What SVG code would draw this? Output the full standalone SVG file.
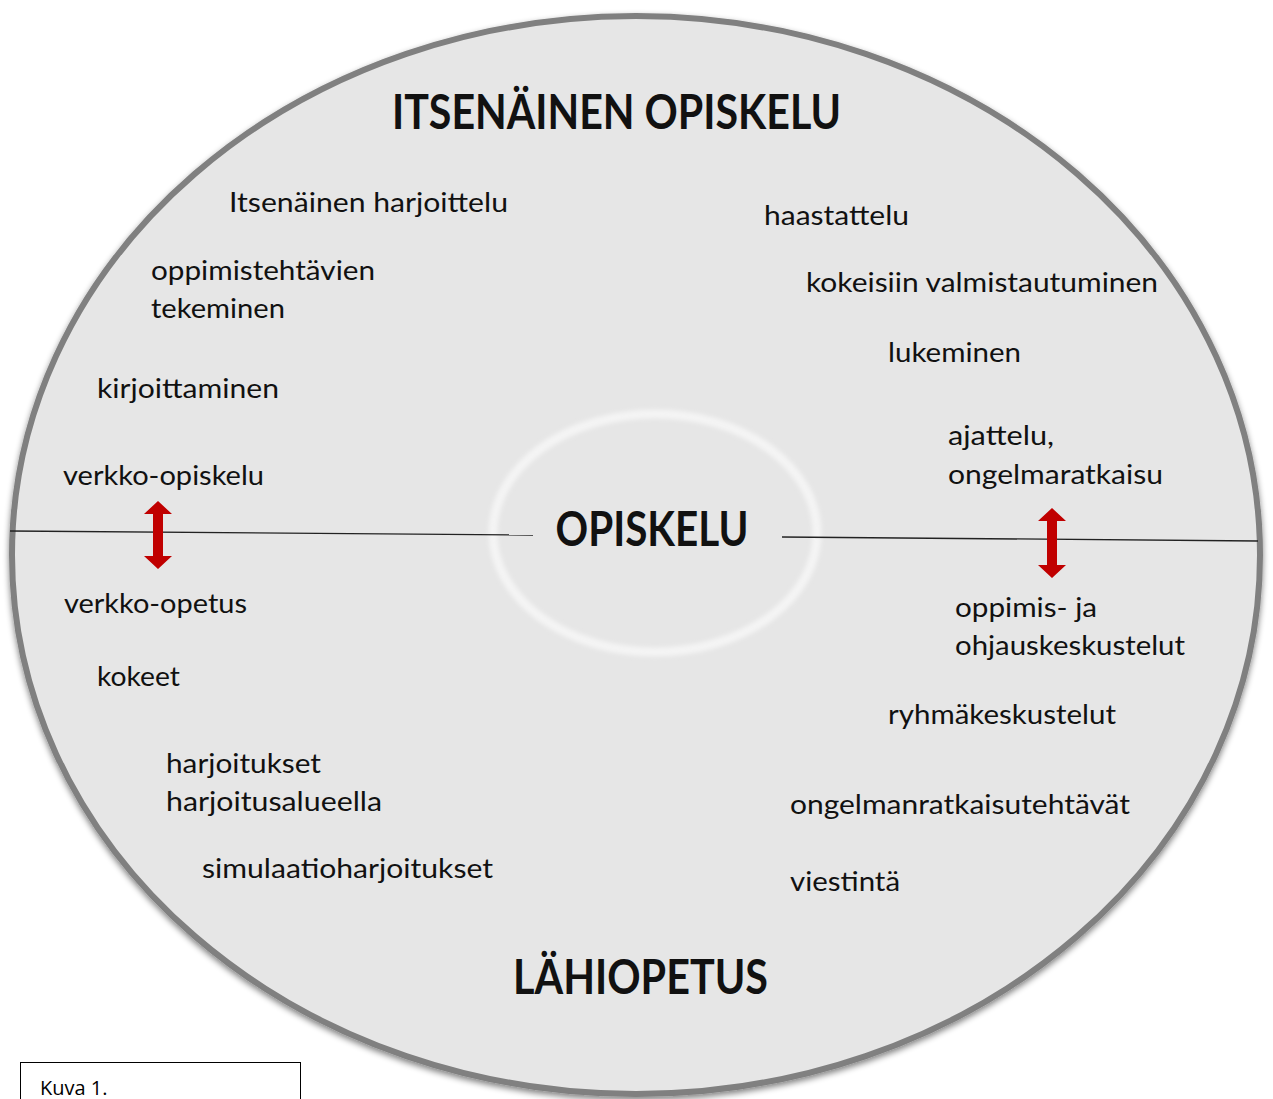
<svg xmlns="http://www.w3.org/2000/svg" width="1273" height="1099" viewBox="0 0 1273 1099">
<style>
.t{font-family:Lato,"Open Sans","Liberation Sans",sans-serif;font-size:27px;fill:#111}
.h{font-family:Lato,"Open Sans","Liberation Sans",sans-serif;font-weight:bold;font-size:48px;fill:#111}
.cap{font-family:"Open Sans","Liberation Sans",sans-serif;font-size:20px;fill:#000}
.arrow{fill:#c00000}
</style>
<defs>
<filter id="sh" x="-5%" y="-5%" width="110%" height="110%">
<feGaussianBlur in="SourceAlpha" stdDeviation="3"/>
<feOffset dx="0" dy="3" result="b"/>
<feComponentTransfer><feFuncA type="linear" slope="0.5"/></feComponentTransfer>
<feMerge><feMergeNode/><feMergeNode in="SourceGraphic"/></feMerge>
</filter>
<filter id="blur"><feGaussianBlur stdDeviation="2"/></filter>
</defs>
<rect width="1273" height="1099" fill="#fff"/>
<g id="outer">
<ellipse cx="636" cy="555" rx="624" ry="539" fill="#e6e6e6" stroke="#808080" stroke-width="6" filter="url(#sh)"/>
</g>
<g id="center">
<ellipse cx="655" cy="533" rx="162" ry="119" fill="none" stroke="#f4f4f4" stroke-width="9" filter="url(#blur)"/>
<text class="h" x="652" y="546" text-anchor="middle" textLength="193" lengthAdjust="spacingAndGlyphs">OPISKELU</text>
</g>
<g id="connectors">
<line x1="10" y1="531" x2="533" y2="535" stroke="#222" stroke-width="1.3"/>
<line x1="782" y1="537" x2="1258" y2="541" stroke="#222" stroke-width="1.3"/>
<polygon class="arrow" points="158,501 172,514 163,514 163,556 172,556 158,569 144,556 153,556 153,514 144,514"/>
<polygon class="arrow" points="1052,508 1066,521 1057,521 1057,565 1066,565 1052,578 1038,565 1047,565 1047,521 1038,521"/>
</g>
<g id="title-top"><text class="h" x="392" y="129" textLength="449" lengthAdjust="spacingAndGlyphs">ITSENÄINEN OPISKELU</text></g>
<g id="title-bottom"><text class="h" x="513" y="994" textLength="255" lengthAdjust="spacingAndGlyphs">LÄHIOPETUS</text></g>
<g id="items">
<text class="t" x="229" y="212" textLength="279" lengthAdjust="spacingAndGlyphs">Itsenäinen harjoittelu</text>
<text class="t" x="764" y="225" textLength="145" lengthAdjust="spacingAndGlyphs">haastattelu</text>
<text class="t" x="151" y="280" textLength="224" lengthAdjust="spacingAndGlyphs">oppimistehtävien</text>
<text class="t" x="151" y="318" textLength="134" lengthAdjust="spacingAndGlyphs">tekeminen</text>
<text class="t" x="806" y="292" textLength="352" lengthAdjust="spacingAndGlyphs">kokeisiin valmistautuminen</text>
<text class="t" x="888" y="362" textLength="133" lengthAdjust="spacingAndGlyphs">lukeminen</text>
<text class="t" x="97" y="398" textLength="182" lengthAdjust="spacingAndGlyphs">kirjoittaminen</text>
<text class="t" x="948" y="445" textLength="106" lengthAdjust="spacingAndGlyphs">ajattelu,</text>
<text class="t" x="948" y="484" textLength="215" lengthAdjust="spacingAndGlyphs">ongelmaratkaisu</text>
<text class="t" x="63" y="485" textLength="201" lengthAdjust="spacingAndGlyphs">verkko-opiskelu</text>
<text class="t" x="64" y="613" textLength="183" lengthAdjust="spacingAndGlyphs">verkko-opetus</text>
<text class="t" x="955" y="617" textLength="142" lengthAdjust="spacingAndGlyphs">oppimis- ja</text>
<text class="t" x="955" y="655" textLength="230" lengthAdjust="spacingAndGlyphs">ohjauskeskustelut</text>
<text class="t" x="97" y="686" textLength="83" lengthAdjust="spacingAndGlyphs">kokeet</text>
<text class="t" x="888" y="724" textLength="228" lengthAdjust="spacingAndGlyphs">ryhmäkeskustelut</text>
<text class="t" x="166" y="773" textLength="155" lengthAdjust="spacingAndGlyphs">harjoitukset</text>
<text class="t" x="166" y="811" textLength="216" lengthAdjust="spacingAndGlyphs">harjoitusalueella</text>
<text class="t" x="790" y="814" textLength="340" lengthAdjust="spacingAndGlyphs">ongelmanratkaisutehtävät</text>
<text class="t" x="202" y="878" textLength="291" lengthAdjust="spacingAndGlyphs">simulaatioharjoitukset</text>
<text class="t" x="790" y="891" textLength="110" lengthAdjust="spacingAndGlyphs">viestintä</text>
</g>
<g id="caption">
<rect x="20.5" y="1062.5" width="280" height="60" fill="#fff" stroke="#000" stroke-width="1"/>
<text class="cap" x="40" y="1095">Kuva 1.</text>
</g>
</svg>
